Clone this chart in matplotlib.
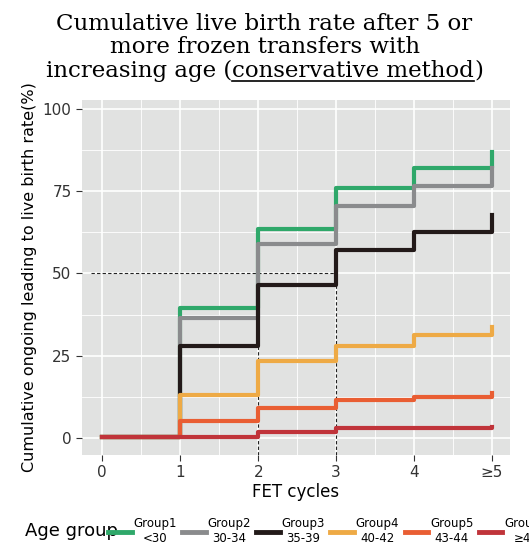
import matplotlib.pyplot as plt
import matplotlib.ticker as ticker
from matplotlib.lines import Line2D

cycles = [0, 1, 2, 3, 4, 5]
xlabels = ["0", "1", "2", "3", "4", "≥5"]
groups = ["Group1\n<30", "Group2\n30-34", "Group3\n35-39", "Group4\n40-42", "Group5\n43-44", "Group6\n≥45"]
colors = ["#2fa86a", "#8a8b8d", "#231a19", "#eeaa45", "#e95e33", "#c0343a"]
g1 = [0.3, 39.5, 63.5, 76, 82, 87]
g2 = [0.3, 36.5, 59, 70.5, 76.5, 82]
g3 = [0.3, 28, 46.5, 57, 62.6, 67.8]
g4 = [0.3, 13, 23.3, 28, 31.3, 33.8]
g5 = [0.3, 5.2, 9.1, 11.5, 12.3, 13.5]
g6 = [0.3, 0.4, 1.9, 3.1, 3.1, 3.2]
series = [g1, g2, g3, g4, g5, g6]

W, H = 529, 554
fig = plt.figure(figsize=(W / 100, H / 100), dpi=100)
ax = fig.add_axes([82 / W, 1 - 455 / H, 428 / W, 355 / H])
ax.set_facecolor("#e1e2e1")
ax.set_xlim(-0.26, 5.23)
ax.set_ylim(-5.2, 102.7)
ax.xaxis.set_major_locator(ticker.FixedLocator(cycles))
ax.xaxis.set_minor_locator(ticker.FixedLocator([0.5, 1.5, 2.5, 3.5, 4.5]))
ax.yaxis.set_major_locator(ticker.FixedLocator([0, 25, 50, 75, 100]))
ax.yaxis.set_minor_locator(ticker.FixedLocator([12.5, 37.5, 62.5, 87.5]))
ax.grid(True, which="major", color="white", lw=1.2)
ax.grid(True, which="minor", color="white", lw=0.6)
ax.set_axisbelow(True)
for s in ax.spines.values():
    s.set_visible(False)
ax.set_xticklabels(xlabels)
ax.tick_params(axis="both", which="major", length=4, color="#333333", labelsize=11, labelcolor="#333333")
ax.tick_params(axis="both", which="minor", length=0)

# reference dashed lines
dash = dict(ls=(0, (3, 2)), color="#222222", lw=0.8, zorder=1)
ax.plot([-0.15, 3], [50, 50], **dash)
ax.plot([2, 2], [-5.2, g3[1]], **dash)
ax.plot([3, 3], [-5.2, 50], **dash)

# older groups drawn on top
for i, vals in enumerate(series):
    ax.step(cycles, vals, where="post", color=colors[i], lw=3, zorder=3 + i)

ax.set_xlabel("FET cycles", fontsize=12, labelpad=2)
ax.set_ylabel("Cumulative ongoing leading to live birth rate(%)", fontsize=11.5)

# title with underline
tfont = dict(family="DejaVu Serif", fontsize=16.5, va="baseline")
fig.text(0.5, 1 - 30 / H, "Cumulative live birth rate after 5 or", ha="center", **tfont)
fig.text(0.5, 1 - 53 / H, "more frozen transfers with", ha="center", **tfont)
fig.canvas.draw()
r = fig.canvas.get_renderer()
parts = ["increasing age (", "conservative method", ")"]
ws = []
for p in parts:
    t = fig.text(0, 0, p, **tfont)
    ws.append(t.get_window_extent(r).width)
    t.remove()
x0 = (W - sum(ws)) / 2
yb = 1 - 77 / H
for p, w in zip(parts, ws):
    fig.text(x0 / W, yb, p, ha="left", **tfont)
    if p == "conservative method":
        fig.add_artist(Line2D([x0 / W, (x0 + w) / W], [yb - 4 / H] * 2, color="black", lw=1.2))
    x0 += w

# legend
fig.text(25 / W, 1 - 531 / H, "Age group", fontsize=13, va="center", ha="left")
handles = [Line2D([], [], color=c, lw=3.5) for c in colors]
leg = fig.legend(handles, groups, loc="center left", bbox_to_anchor=(108 / W, 1 - 531 / H), ncol=6,
                 frameon=False, fontsize=8.5, handlelength=2.0, handletextpad=0.15,
                 columnspacing=0.45, borderpad=0, borderaxespad=0)
for t in leg.get_texts():
    t.set_ha("center")
fig.savefig("out.png", dpi=100)
